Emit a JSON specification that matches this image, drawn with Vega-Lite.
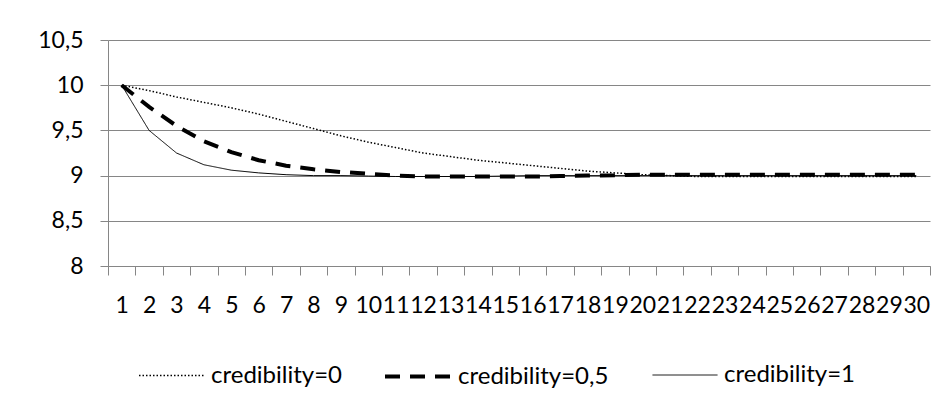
{
  "$schema": "https://vega.github.io/schema/vega-lite/v6.json",
  "autosize": {"type": "none"},
  "width": 822,
  "height": 226,
  "padding": {"left": 108, "top": 40, "right": 18, "bottom": 139},
  "background": "white",
  "config": {
    "font": "Lato",
    "view": {"stroke": null},
    "axis": {"labelFont": "Lato", "labelFontSize": 23, "labelColor": "black", "domainColor": "#868686", "tickColor": "#868686", "gridColor": "#868686", "domainWidth": 1, "tickWidth": 1, "gridWidth": 1},
    "legend": {"labelFont": "Lato", "labelFontSize": 24, "labelColor": "black", "title": null, "orient": "none", "direction": "horizontal", "padding": 0, "symbolType": "stroke", "symbolSize": 4225, "symbolStrokeColor": "black", "labelOffset": 6}
  },
  "data": {"values": [
    {"t":1,"s":"credibility=0","v":10},{"t":2,"s":"credibility=0","v":9.94},{"t":3,"s":"credibility=0","v":9.87},{"t":4,"s":"credibility=0","v":9.81},{"t":5,"s":"credibility=0","v":9.75},{"t":6,"s":"credibility=0","v":9.68},{"t":7,"s":"credibility=0","v":9.6},{"t":8,"s":"credibility=0","v":9.52},{"t":9,"s":"credibility=0","v":9.44},{"t":10,"s":"credibility=0","v":9.37},{"t":11,"s":"credibility=0","v":9.31},{"t":12,"s":"credibility=0","v":9.25},{"t":13,"s":"credibility=0","v":9.21},{"t":14,"s":"credibility=0","v":9.17},{"t":15,"s":"credibility=0","v":9.14},{"t":16,"s":"credibility=0","v":9.11},{"t":17,"s":"credibility=0","v":9.08},{"t":18,"s":"credibility=0","v":9.05},{"t":19,"s":"credibility=0","v":9.03},{"t":20,"s":"credibility=0","v":9.01},{"t":21,"s":"credibility=0","v":9.0},{"t":22,"s":"credibility=0","v":8.99},{"t":23,"s":"credibility=0","v":8.99},{"t":24,"s":"credibility=0","v":8.99},{"t":25,"s":"credibility=0","v":8.99},{"t":26,"s":"credibility=0","v":8.99},{"t":27,"s":"credibility=0","v":8.99},{"t":28,"s":"credibility=0","v":8.99},{"t":29,"s":"credibility=0","v":8.99},{"t":30,"s":"credibility=0","v":8.99},
    {"t":1,"s":"credibility=0,5","v":10},{"t":2,"s":"credibility=0,5","v":9.76},{"t":3,"s":"credibility=0,5","v":9.55},{"t":4,"s":"credibility=0,5","v":9.38},{"t":5,"s":"credibility=0,5","v":9.26},{"t":6,"s":"credibility=0,5","v":9.17},{"t":7,"s":"credibility=0,5","v":9.11},{"t":8,"s":"credibility=0,5","v":9.07},{"t":9,"s":"credibility=0,5","v":9.04},{"t":10,"s":"credibility=0,5","v":9.02},{"t":11,"s":"credibility=0,5","v":9.0},{"t":12,"s":"credibility=0,5","v":8.99},{"t":13,"s":"credibility=0,5","v":8.99},{"t":14,"s":"credibility=0,5","v":8.99},{"t":15,"s":"credibility=0,5","v":8.99},{"t":16,"s":"credibility=0,5","v":8.99},{"t":17,"s":"credibility=0,5","v":8.995},{"t":18,"s":"credibility=0,5","v":9.0},{"t":19,"s":"credibility=0,5","v":9.005},{"t":20,"s":"credibility=0,5","v":9.01},{"t":21,"s":"credibility=0,5","v":9.01},{"t":22,"s":"credibility=0,5","v":9.01},{"t":23,"s":"credibility=0,5","v":9.01},{"t":24,"s":"credibility=0,5","v":9.01},{"t":25,"s":"credibility=0,5","v":9.01},{"t":26,"s":"credibility=0,5","v":9.01},{"t":27,"s":"credibility=0,5","v":9.01},{"t":28,"s":"credibility=0,5","v":9.01},{"t":29,"s":"credibility=0,5","v":9.01},{"t":30,"s":"credibility=0,5","v":9.01},
    {"t":1,"s":"credibility=1","v":10},{"t":2,"s":"credibility=1","v":9.5},{"t":3,"s":"credibility=1","v":9.25},{"t":4,"s":"credibility=1","v":9.12},{"t":5,"s":"credibility=1","v":9.06},{"t":6,"s":"credibility=1","v":9.03},{"t":7,"s":"credibility=1","v":9.01},{"t":8,"s":"credibility=1","v":9.0},{"t":9,"s":"credibility=1","v":9.0},{"t":10,"s":"credibility=1","v":8.995},{"t":11,"s":"credibility=1","v":8.99},{"t":12,"s":"credibility=1","v":8.99},{"t":13,"s":"credibility=1","v":8.99},{"t":14,"s":"credibility=1","v":8.99},{"t":15,"s":"credibility=1","v":8.995},{"t":16,"s":"credibility=1","v":9.0},{"t":17,"s":"credibility=1","v":9.0},{"t":18,"s":"credibility=1","v":9.0},{"t":19,"s":"credibility=1","v":9.0},{"t":20,"s":"credibility=1","v":9.0},{"t":21,"s":"credibility=1","v":9.0},{"t":22,"s":"credibility=1","v":9.0},{"t":23,"s":"credibility=1","v":9.0},{"t":24,"s":"credibility=1","v":9.0},{"t":25,"s":"credibility=1","v":9.0},{"t":26,"s":"credibility=1","v":9.0},{"t":27,"s":"credibility=1","v":9.0},{"t":28,"s":"credibility=1","v":9.0},{"t":29,"s":"credibility=1","v":9.0},{"t":30,"s":"credibility=1","v":9.0}
  ]},
  "encoding": {
    "x": {"field": "t", "type": "ordinal", "bandPosition": 0.5,
      "scale": {"type": "band", "paddingInner": 0, "paddingOuter": 0},
      "axis": {"title": null, "labelAngle": 0, "labelOverlap": false, "tickBand": "extent", "tickSize": 9, "labelPadding": 19, "grid": false}},
    "y": {"field": "v", "type": "quantitative",
      "scale": {"domain": [8, 10.5], "nice": false, "zero": false},
      "axis": {"title": null, "values": [8, 8.5, 9, 9.5, 10, 10.5], "tickSize": 8, "labelPadding": 17, "grid": true, "labelExpr": "replace(format(datum.value, '~g'), '.', ',')"}}
  },
  "layer": [
    {
      "transform": [{"filter": "datum.s === 'credibility=0'"}],
      "mark": {"type": "line", "color": "black", "strokeCap": "butt", "strokeWidth": 1.5},
      "encoding": {"strokeDash": {"field": "s", "type": "nominal",
        "scale": {"domain": ["credibility=0"], "range": [[1.5, 2]]},
        "legend": {"legendX": 30, "legendY": 302, "symbolStrokeWidth": 1.5}}}
    },
    {
      "transform": [{"filter": "datum.s === 'credibility=0,5'"}],
      "mark": {"type": "line", "color": "black", "strokeCap": "butt", "strokeWidth": 4},
      "encoding": {"strokeDash": {"field": "s", "type": "nominal",
        "scale": {"domain": ["credibility=0,5"], "range": [[15, 10]]},
        "legend": {"legendX": 275, "legendY": 302, "symbolStrokeWidth": 4}}}
    },
    {
      "transform": [{"filter": "datum.s === 'credibility=1'"}],
      "mark": {"type": "line", "color": "black", "strokeCap": "butt", "strokeWidth": 1},
      "encoding": {"strokeDash": {"field": "s", "type": "nominal",
        "scale": {"domain": ["credibility=1"], "range": [[1, 0]]},
        "legend": {"legendX": 544, "legendY": 302, "symbolStrokeWidth": 1}}}
    }
  ],
  "resolve": {"scale": {"strokeDash": "independent"}, "legend": {"strokeDash": "independent"}}
}
